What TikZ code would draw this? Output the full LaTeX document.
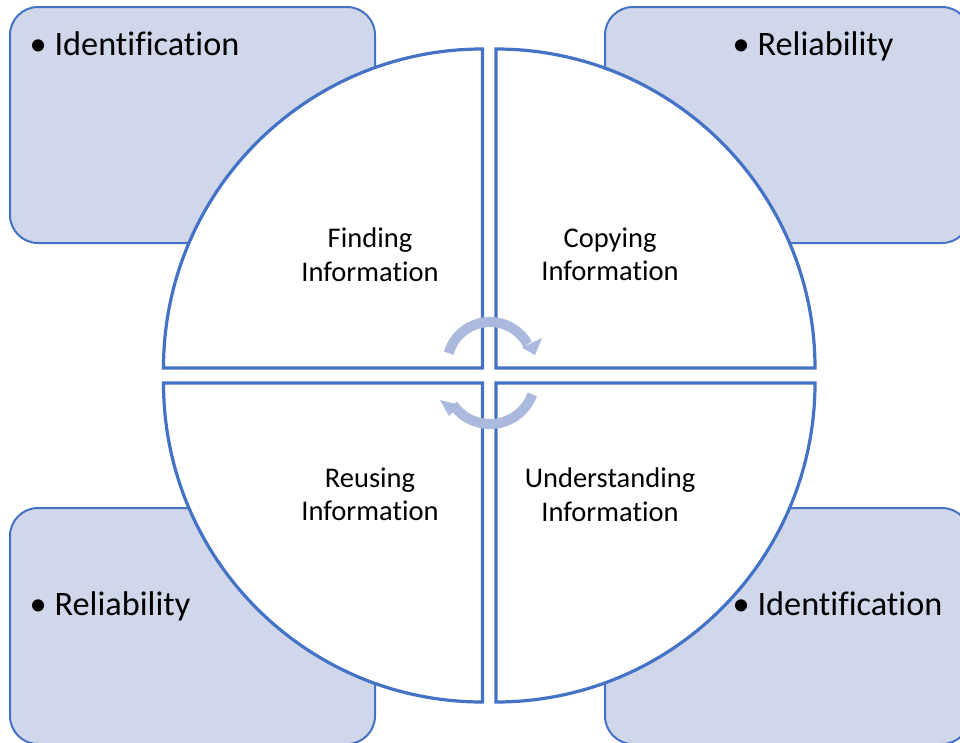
\documentclass[tikz,border=0pt]{standalone}
\usepackage{fontspec}
\setmainfont{Carlito}[Ligatures={NoCommon,NoContextual}]
\definecolor{obblue}{HTML}{4472C4}
\definecolor{boxfill}{HTML}{D1D7EB}
\definecolor{arrowfill}{HTML}{AAB9DD}
\begin{document}
\begin{tikzpicture}[x=1pt,y=-1pt,
  cornerbox/.style={draw=obblue, line width=2pt, fill=boxfill, rounded corners=28pt},
  quad/.style={draw=obblue, line width=3.2pt, fill=white, line join=miter},
  arrowbody/.style={draw=arrowfill, line width=10pt},
  arrowhead/.style={fill=arrowfill, draw=none},
  qlabel/.style={align=center, font=\fontsize{28.5}{33.5}\selectfont, inner sep=0pt},
  blabel/.style={anchor=base west, inner sep=0pt, font=\fontsize{34.3}{40}\selectfont}]
\useasboundingbox (0,0) rectangle (960,742);
\clip (0,0) rectangle (960,742);
\fill[white] (0,0) rectangle (960,742);
% corner boxes
\path[cornerbox] (10,7) rectangle (375,243);
\path[cornerbox] (605,7) rectangle (970,243);
\path[cornerbox] (10,508) rectangle (375,744);
\path[cornerbox] (605,508) rectangle (970,744);
% quadrants
\path[quad] (482.5,368) -- (163.5,368) arc[start angle=180, end angle=270, radius=319] -- cycle;
\path[quad] (496,368) -- (496,49) arc[start angle=270, end angle=360, radius=319] -- cycle;
\path[quad] (496,383) -- (815,383) arc[start angle=0, end angle=90, radius=319] -- cycle;
\path[quad] (482.5,383) -- (482.5,702) arc[start angle=90, end angle=180, radius=319] -- cycle;
% cycle arrows
\draw[arrowbody] (490,365) ++(196:43) arc[start angle=196, end angle=331, radius=43];
\path[arrowhead] (522,347.5) -- (542,338) -- (535,355) -- cycle;
\draw[arrowbody] (490,379) ++(20:45) arc[start angle=20, end angle=145, radius=45];
\path[arrowhead] (460,405) -- (449,416) -- (440,400) -- cycle;
% quadrant labels
\node[qlabel] (find) at (370,254.5) {Finding\\Information};
\node[qlabel] (copy) at (610,254.5) {Copying\\Information};
\node[qlabel] (reuse) at (370,494.5) {Reusing\\Information};
\node[qlabel] (under) at (610,494.5) {Understanding\\Information};
% bullet labels
\node[blabel] (tl) at (29.5,55) {• Identification};
\node[blabel] (tr) at (732.5,55) {• Reliability};
\node[blabel] (bl) at (29.5,615) {• Reliability};
\node[blabel] (br) at (732.5,615) {• Identification};
\end{tikzpicture}
\end{document}
